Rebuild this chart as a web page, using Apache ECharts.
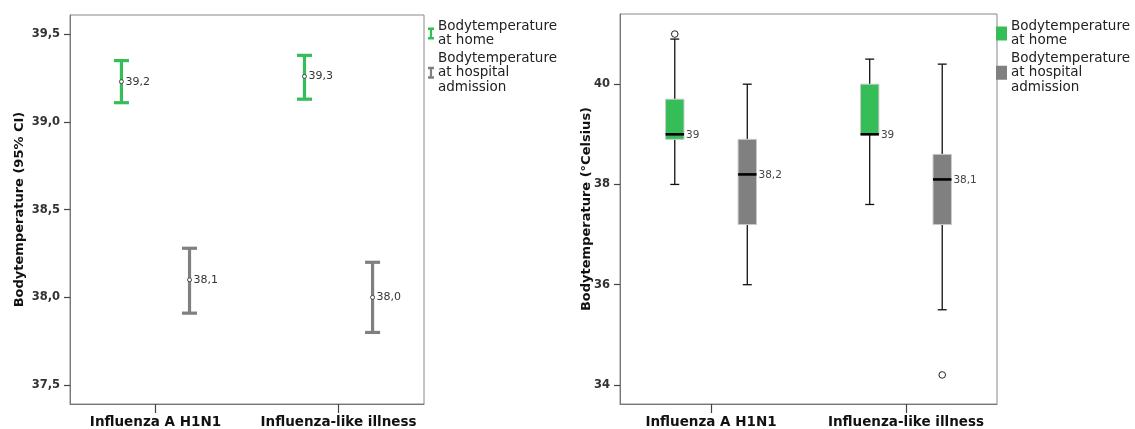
<!DOCTYPE html>
<html>
<head>
<meta charset="utf-8">
<script src="https://cdn.jsdelivr.net/npm/echarts@6/dist/echarts.min.js"></script>
<style>
  html, body { margin: 0; padding: 0; background: #fff; }
  #chart { width: 1135px; height: 429px; }
</style>
</head>
<body>
<div id="chart"></div>
<script>
// Groups on the horizontal axis
const categories = ['Influenza A H1N1', 'Influenza-like illness'];
const seriesNames = ['Bodytemperature\nat home', 'Bodytemperature\nat hospital\nadmission'];

// Left panel: mean with 95% confidence interval
const ciHomeMean = [39.23, 39.26];
const ciHomeLow = [39.11, 39.13];
const ciHomeHigh = [39.35, 39.38];
const ciHospMean = [38.10, 38.00];
const ciHospLow = [37.91, 37.80];
const ciHospHigh = [38.28, 38.20];

// Right panel: box plots [min, Q1, median, Q3, max]
const boxHome = [[38.0, 38.9, 39.0, 39.7, 40.9], [37.6, 39.0, 39.0, 40.0, 40.5]];
const boxHosp = [[36.0, 37.2, 38.2, 38.9, 40.0], [35.5, 37.2, 38.1, 38.6, 40.4]];
const outliersHome = [[0, 41.0]];
const outliersHosp = [[1, 34.2]];

// Tick labels
const ciTicks = [37.5, 38.0, 38.5, 39.0, 39.5];
const boxTicks = [34, 36, 38, 40];

const GREEN = '#35bd57';
const GRAY = '#808080';
const FONT = 'DejaVu Sans';
const SHIFT = 0.186;   // group offset within a category, in axis units

const comma = (v, d) => v.toFixed(d).replace('.', ',');
const medianText = v => Number.isInteger(v) ? String(v) : comma(v, 1);

function ciRows(low, high, mean) {
  return categories.map((_, i) => [i, low[i], high[i], mean[i]]);
}
function boxRows(stats) {
  return stats.map((s, i) => [i].concat(s));
}

function renderCI(side, color) {
  return function (params, api) {
    const cat = api.value(0), lo = api.value(1), hi = api.value(2), mean = api.value(3);
    const dx = api.size([1, 0])[0] * SHIFT * side;
    const pHi = api.coord([cat, hi]);
    const pLo = api.coord([cat, lo]);
    const pM = api.coord([cat, mean]);
    const x = pHi[0] + dx;
    const cap = 7.5;
    const st = { stroke: color, lineWidth: 3.2 };
    return {
      type: 'group',
      children: [
        { type: 'line', shape: { x1: x, y1: pHi[1], x2: x, y2: pLo[1] }, style: st },
        { type: 'line', shape: { x1: x - cap, y1: pHi[1], x2: x + cap, y2: pHi[1] }, style: st },
        { type: 'line', shape: { x1: x - cap, y1: pLo[1], x2: x + cap, y2: pLo[1] }, style: st },
        { type: 'circle', shape: { cx: x, cy: pM[1], r: 2 }, style: { fill: '#fff', stroke: '#444', lineWidth: 1 } },
        { type: 'text', x: x + 4, y: pM[1], style: { text: comma(mean, 1), fill: '#333', font: '11px ' + FONT, verticalAlign: 'middle', align: 'left' } }
      ]
    };
  };
}

function renderBox(side, color) {
  return function (params, api) {
    const cat = api.value(0);
    const mn = api.value(1), q1 = api.value(2), med = api.value(3), q3 = api.value(4), mx = api.value(5);
    const dx = api.size([1, 0])[0] * SHIFT * side;
    const x = api.coord([cat, med])[0] + dx;
    const yMin = api.coord([cat, mn])[1], yQ1 = api.coord([cat, q1])[1];
    const yMed = api.coord([cat, med])[1], yQ3 = api.coord([cat, q3])[1];
    const yMax = api.coord([cat, mx])[1];
    const hw = 9.2, cap = 4.5;
    const wl = { stroke: '#111', lineWidth: 1.3 };
    return {
      type: 'group',
      children: [
        { type: 'line', shape: { x1: x, y1: yMax, x2: x, y2: yQ3 }, style: wl },
        { type: 'line', shape: { x1: x, y1: yQ1, x2: x, y2: yMin }, style: wl },
        { type: 'line', shape: { x1: x - cap, y1: yMax, x2: x + cap, y2: yMax }, style: wl },
        { type: 'line', shape: { x1: x - cap, y1: yMin, x2: x + cap, y2: yMin }, style: wl },
        { type: 'rect', shape: { x: x - hw, y: yQ3, width: hw * 2, height: yQ1 - yQ3 }, style: { fill: color, stroke: '#c9c9c9', lineWidth: 1 } },
        { type: 'line', shape: { x1: x - hw, y1: yMed, x2: x + hw, y2: yMed }, style: { stroke: '#000', lineWidth: 2.6 } },
        { type: 'text', x: x + hw + 2, y: yMed + 0.5, style: { text: medianText(med), fill: '#444', font: '10.5px ' + FONT, verticalAlign: 'middle', align: 'left' } }
      ]
    };
  };
}

function xAxisFor(gridIndex) {
  return {
    type: 'value', gridIndex, min: -0.467, max: 1.467,
    splitLine: { show: false },
    axisLine: { show: true, onZero: false, lineStyle: { color: '#777', width: 1 } },
    axisTick: { show: true, customValues: [0, 1], length: 9, inside: false, lineStyle: { color: '#444', width: 1.2 } },
    axisLabel: { customValues: [0, 1], formatter: v => categories[Math.round(v)], color: '#111',
      fontFamily: FONT, fontWeight: 'bold', fontSize: 13.5, margin: 11 }
  };
}

function yAxisFor(gridIndex, min, max, ticks, fmt, title) {
  return {
    type: 'value', gridIndex, min, max,
    name: title, nameLocation: 'middle', nameGap: gridIndex === 0 ? 43.5 : 26.5,
    nameMoveOverlap: false,
    nameTextStyle: { fontFamily: FONT, fontWeight: 'bold', fontSize: 13, color: '#111' },
    splitLine: { show: false },
    axisLine: { show: true, onZero: false, lineStyle: { color: '#777', width: 1 } },
    axisTick: { show: true, customValues: ticks, length: 6, lineStyle: { color: '#444', width: 1.2 } },
    axisLabel: { customValues: ticks, formatter: fmt, color: '#333', fontFamily: FONT, fontWeight: 600, fontSize: 11.5, margin: 10 }
  };
}

function legendFor(left, icons) {
  return {
    orient: 'vertical', left, top: 19, padding: 0, itemGap: 3,
    selectedMode: false,
    itemWidth: icons.w, itemHeight: icons.h,
    textStyle: { fontFamily: FONT, fontSize: 13.5, color: '#222', lineHeight: 14.5, padding: [0, 0, 0, -1] },
    data: seriesNames.map((name, i) => ({ name, icon: icons.shape, itemStyle: { color: i === 0 ? GREEN : GRAY } }))
  };
}

// I-beam legend glyph, proportioned to its 6x12 item box
const IBEAM = 'path://M0,0H6V2.4H4.1V9.6H6V12H0V9.6H1.9V2.4H0Z';

const option = {
  animation: false,
  grid: [
    { left: 70, top: 15, width: 354, height: 390, show: true, borderColor: '#888', borderWidth: 1 },
    { left: 620, top: 14, width: 377, height: 391, show: true, borderColor: '#888', borderWidth: 1 }
  ],
  xAxis: [xAxisFor(0), xAxisFor(1)],
  yAxis: [
    yAxisFor(0, 37.392, 39.61, ciTicks, v => comma(v, 1), 'Bodytemperature (95% CI)'),
    yAxisFor(1, 33.62, 41.4, boxTicks, v => String(v), 'Bodytemperature (°Celsius)')
  ],
  legend: [
    legendFor(428, { w: 6, h: 12, shape: IBEAM }),
    legendFor(996, { w: 11, h: 14, shape: 'rect' })
  ],
  series: [
    { name: seriesNames[0], type: 'custom', xAxisIndex: 0, yAxisIndex: 0, itemStyle: { color: GREEN },
      renderItem: renderCI(-1, GREEN), encode: { x: 0, y: [1, 2, 3] }, data: ciRows(ciHomeLow, ciHomeHigh, ciHomeMean) },
    { name: seriesNames[1], type: 'custom', xAxisIndex: 0, yAxisIndex: 0, itemStyle: { color: GRAY },
      renderItem: renderCI(1, GRAY), encode: { x: 0, y: [1, 2, 3] }, data: ciRows(ciHospLow, ciHospHigh, ciHospMean) },
    { name: seriesNames[0], type: 'custom', xAxisIndex: 1, yAxisIndex: 1, itemStyle: { color: GREEN },
      renderItem: renderBox(-1, GREEN), encode: { x: 0, y: [1, 2, 3, 4, 5] }, data: boxRows(boxHome) },
    { name: seriesNames[1], type: 'custom', xAxisIndex: 1, yAxisIndex: 1, itemStyle: { color: GRAY },
      renderItem: renderBox(1, GRAY), encode: { x: 0, y: [1, 2, 3, 4, 5] }, data: boxRows(boxHosp) },
    { name: 'outliers home', type: 'custom', xAxisIndex: 1, yAxisIndex: 1,
      renderItem: (params, api) => {
        const p = api.coord([api.value(0), api.value(1)]);
        return { type: 'circle', shape: { cx: p[0] - api.size([1, 0])[0] * SHIFT, cy: p[1], r: 3.3 }, style: { fill: '#fff', stroke: '#222', lineWidth: 1 } };
      }, data: outliersHome },
    { name: 'outliers hospital', type: 'custom', xAxisIndex: 1, yAxisIndex: 1,
      renderItem: (params, api) => {
        const p = api.coord([api.value(0), api.value(1)]);
        return { type: 'circle', shape: { cx: p[0] + api.size([1, 0])[0] * SHIFT, cy: p[1], r: 3.3 }, style: { fill: '#fff', stroke: '#222', lineWidth: 1 } };
      }, data: outliersHosp }
  ]
};

const chart = echarts.init(document.getElementById('chart'), null, { renderer: 'canvas' });
chart.setOption(option);
</script>
</body>
</html>
